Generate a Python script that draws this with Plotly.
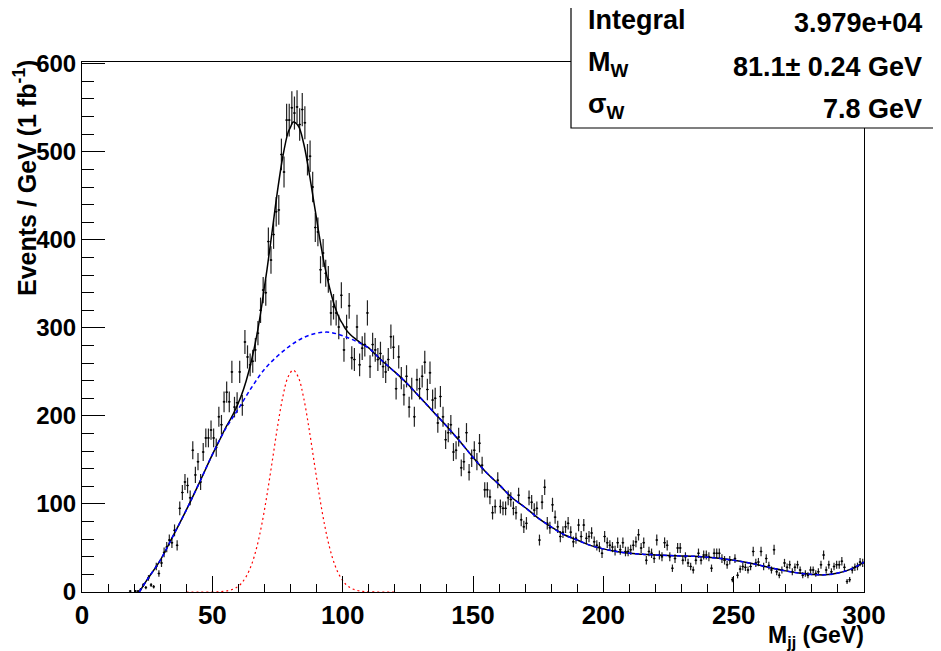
import numpy as np
import plotly.graph_objects as go

# ---------------- data ----------------
bin_lo = 18.0
bin_width = 1.0
counts = [
    1, 0,
    1, 1, 3, 8, 5, 16, 8, 6, 29, 21,
    33, 45, 51, 59, 56, 70, 53, 95, 113, 125,
    121, 107, 161, 133, 148, 125, 159, 175, 175, 184,
    175, 164, 199, 190, 216, 227, 216, 250, 210, 215,
    250, 212, 284, 267, 258, 262, 275, 294, 320, 343,
    340, 398, 377, 406, 432, 434, 497, 477, 536, 536,
    550, 544, 551, 531, 548, 533, 491, 495, 460, 414,
    409, 366, 385, 362, 355, 317, 324, 317, 301, 337,
    275, 301, 325, 266, 264, 301, 258, 277, 281, 317,
    256, 281, 275, 264, 271, 256, 250, 264, 290, 278,
    231, 267, 243, 224, 245, 210, 231, 199, 241, 231,
    245, 261, 230, 249, 218, 220, 192, 222, 199, 173,
    181, 190, 159, 161, 176, 141, 148, 181, 136, 152,
    161, 148, 169, 144, 116, 116, 108, 90, 97, 127,
    97, 95, 95, 107, 105, 95, 90, 110, 82, 74,
    78, 107, 102, 93, 95, 59, 102, 119, 78, 73,
    99, 85, 74, 63, 68, 74, 78, 68, 57, 61,
    76, 63, 76, 61, 63, 67, 57, 53, 51, 44,
    63, 56, 53, 51, 47, 56, 48, 56, 46, 46,
    48, 53, 57, 65, 50, 56, 36, 46, 44, 38,
    59, 42, 40, 56, 53, 40, 27, 38, 50, 50,
    36, 40, 33, 29, 25, 36, 44, 36, 42, 42,
    40, 27, 44, 44, 44, 38, 36, 31, 36, 14,
    38, 19, 26, 29, 28, 25, 29, 46, 33, 34,
    46, 29, 38, 30, 25, 48, 23, 19, 25, 33,
    28, 31, 23, 28, 31, 25, 19, 21, 19, 25,
    25, 21, 23, 31, 42, 25, 31, 23, 29, 31,
    31, 35, 28, 12, 14, 25, 28, 29, 34, 33,
    23,
]
event_weight = 0.65  # per-event weight for 1 fb^-1 (errors = sqrt(sum w^2))

# background fit (blue)
bkg_x = [22, 25, 30, 35, 40, 45, 50, 55, 60, 65, 70, 75, 80, 85, 90, 95, 100,
         105, 110, 115, 120, 125, 130, 135, 140, 145, 150, 155, 160, 165, 170,
         175, 180, 185, 190, 195, 200, 205, 210, 215, 220, 225, 230, 235, 240,
         245, 250, 255, 260, 265, 270, 275, 280, 285, 290, 295, 300]
bkg_y = [0, 14, 36, 64, 93, 124, 156, 185, 208, 232, 253, 268, 280, 289, 294, 295, 291,
         285, 277, 263, 250, 236, 220, 204, 188, 171, 153, 136, 122, 107, 96,
         84, 74, 65, 59, 53, 49, 46, 44, 43, 42, 41.5, 41, 40.5, 39.5,
         38, 36, 33.5, 30.5, 27, 24, 21.5, 20, 19.5, 21.5, 26, 34]

# W signal gaussian (red)
sig_x = [40, 45, 50, 53, 55, 57, 59, 61, 63, 65, 67, 69, 71, 73, 75, 77, 79, 81,
         83, 85, 87, 89, 91, 93, 95, 97, 99, 101, 103, 105, 107, 109, 112, 116, 120]
sig_y = [0, 0, 0.05, 0.4, 1.0, 2.2, 4.7, 9.4, 17.6, 30.7, 50.3, 77.2, 110.8, 148.9,
         187.5, 221, 243.9, 252, 243.9, 221, 187.5, 148.9, 110.8, 77.2, 50.3, 30.7,
         17.6, 9.4, 4.7, 2.2, 1.0, 0.4, 0.05, 0, 0]

stats_labels = ["Integral", "M<sub>W</sub>", "σ<sub>W</sub>"]
stats_values = ["3.979e+04", "81.1± 0.24 GeV", "7.8 GeV"]

x_ticks = [0, 50, 100, 150, 200, 250, 300]
y_ticks = [0, 100, 200, 300, 400, 500, 600]

# ---------------- derived ----------------
counts = np.array(counts, dtype=float)
centers = bin_lo + bin_width * (np.arange(len(counts)) + 0.5)
mask = counts > 0
errs = np.sqrt(event_weight * counts)

grid = np.array(sorted(set(bkg_x) | set(sig_x)), dtype=float)
grid = grid[grid >= 22]
total = np.interp(grid, bkg_x, bkg_y) + np.interp(grid, sig_x, sig_y, left=0, right=0)

FONT = "Liberation Sans"

fig = go.Figure()
fig.add_trace(go.Scatter(
    x=centers[mask], y=counts[mask], mode="markers",
    marker=dict(size=2, color="black"),
    error_y=dict(type="data", array=errs[mask], width=0, thickness=1.2, color="#222"),
    error_x=dict(type="constant", value=bin_width / 2, width=0, thickness=1, color="#222"),
    showlegend=False, hoverinfo="x+y",
))
fig.add_trace(go.Scatter(x=grid, y=total, mode="lines",
                         line=dict(color="black", width=1.5, shape="spline"),
                         showlegend=False))
fig.add_trace(go.Scatter(x=bkg_x, y=bkg_y, mode="lines",
                         line=dict(color="#0000ff", width=1.5, dash="4px,3px", shape="spline"),
                         showlegend=False))
fig.add_trace(go.Scatter(x=sig_x, y=sig_y, mode="lines",
                         line=dict(color="#ff0000", width=1.2, dash="2px,3px", shape="spline"),
                         showlegend=False))

# page has an 8px body margin: figure coordinates = page coordinates - 8
OFF = 8
W, H = 941 - OFF, 651 - OFF
L, R, T, B = 82 - OFF, 864 - OFF, 62 - OFF, 592 - OFF
pw, ph = R - L, B - T

def px(x):  # page pixel -> paper
    return (x - OFF - L) / pw

def py(y):
    return (B - (y - OFF)) / ph

annotations = []
# y title
annotations.append(dict(text="Events / GeV (1 fb<sup>-1</sup>)", textangle=-90,
                        xref="paper", yref="paper", x=px(25), y=py(58),
                        xanchor="center", yanchor="top", showarrow=False,
                        font=dict(family=FONT, size=25, color="black", weight="bold")))
# x title
annotations.append(dict(text="M<sub>jj</sub> (GeV)",
                        xref="paper", yref="paper", x=px(866), y=py(636),
                        xanchor="right", yanchor="middle", showarrow=False,
                        font=dict(family=FONT, size=23, color="black", weight="bold")))
# stats
rows_y = [20, 64, 106]
for lab, val, ry in zip(stats_labels, stats_values, rows_y):
    annotations.append(dict(text=lab, xref="paper", yref="paper", x=px(586), y=py(ry),
                            xanchor="left", yanchor="middle", showarrow=False,
                            font=dict(family=FONT, size=27, color="black", weight="bold")))
    annotations.append(dict(text=val, xref="paper", yref="paper", x=px(924), y=py(ry + 3),
                            xanchor="right", yanchor="middle", showarrow=False,
                            font=dict(family=FONT, size=27, color="black", weight="bold")))

shapes = [dict(type="rect", xref="paper", yref="paper",
               x0=px(571), x1=px(960), y0=py(128), y1=py(-20),
               fillcolor="white", line=dict(color="black", width=1.2), layer="above")]

fig.update_layout(
    width=W, height=H,
    margin=dict(l=L, r=W - R, t=T, b=H - B, pad=0),
    paper_bgcolor="white", plot_bgcolor="white",
    annotations=annotations, shapes=shapes,
    showlegend=False,
)
fig.update_xaxes(range=[0, 300], tickvals=x_ticks, ticktext=[str(v) for v in x_ticks],
                 ticks="inside", ticklen=16, tickwidth=1, tickcolor="black",
                 minor=dict(dtick=10, ticks="inside", ticklen=8, tickwidth=1, tickcolor="black"),
                 showgrid=False, zeroline=False, showline=True, linecolor="black", linewidth=1,
                 mirror=True,
                 tickfont=dict(family=FONT, size=26, color="black", weight="bold"))
fig.update_yaxes(range=[0, 602], tickvals=y_ticks, ticktext=[str(v) for v in y_ticks],
                 ticks="inside", ticklen=23, tickwidth=1, tickcolor="black",
                 minor=dict(dtick=20, ticks="inside", ticklen=12, tickwidth=1, tickcolor="black"),
                 showgrid=False, zeroline=False, showline=True, linecolor="black", linewidth=1,
                 mirror=True,
                 tickfont=dict(family=FONT, size=24, color="black", weight="bold"))

fig.write_html("out.html")
